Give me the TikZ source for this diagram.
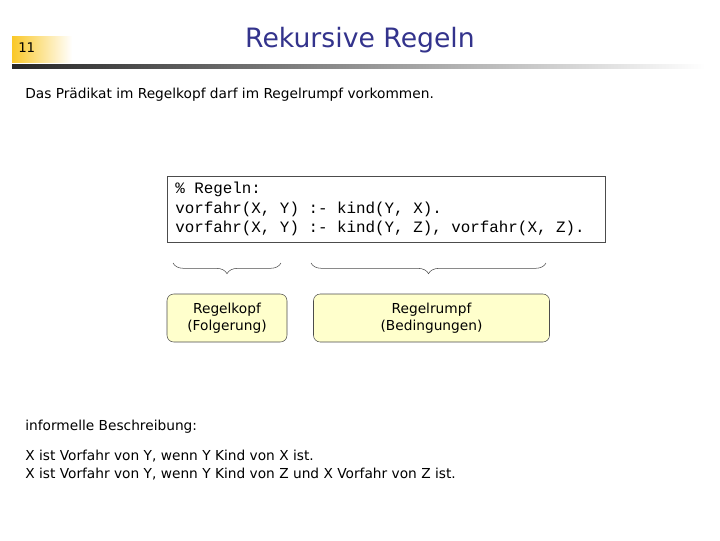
\documentclass[tikz,border=0pt]{standalone}
\usepackage{fontspec}
\setmainfont{DejaVu Sans}
\setmonofont{Liberation Mono}
\usetikzlibrary{decorations.pathreplacing}
\definecolor{titleblue}{RGB}{51,51,140}
\definecolor{boxyellow}{RGB}{255,255,204}
\definecolor{numgold}{RGB}{250,200,40}
\tikzset{
  plain/.style={anchor=west,inner sep=0pt,font=\fontsize{10.3}{13}\selectfont},
  part/.style={draw=black!70,rounded corners=5pt,fill=boxyellow,align=center,
    font=\fontsize{10.3}{13}\selectfont},
  brc/.style={decorate,decoration={brace,mirror,amplitude=8pt},black!70}
}
\begin{document}
\begin{tikzpicture}[x=0.75pt,y=-0.75pt]
\useasboundingbox (0,0) rectangle (720,540);
% header
\shade[left color=numgold,right color=white] (12,36) rectangle (72,62);
\node[plain,font=\fontsize{10}{12}\selectfont] (num) at (18,48) {11};
\node[font=\fontsize{20}{24}\selectfont,text=titleblue] (title) at (360,40) {Rekursive Regeln};
\shade[left color=black!85,right color=white] (12,64) rectangle (705,68);
\node[plain] (intro) at (25,95) {Das Prädikat im Regelkopf darf im Regelrumpf vorkommen.};
% program
\draw[black!70,fill=white] (167,176) rectangle (605,242);
\node[plain,align=left,font=\ttfamily\fontsize{11.9}{14.6}\selectfont] (code) at (175,209)
  {\% Regeln:\\vorfahr(X, Y) :- kind(Y, X).\\vorfahr(X, Y) :- kind(Y, Z), vorfahr(X, Z).};
% parts
\draw[brc] (173,263) -- (281,263);
\draw[brc] (311,263) -- (546,263);
\node[part,minimum width=90pt,minimum height=36pt] (kopf) at (227,318) {Regelkopf\\(Folgerung)};
\node[part,minimum width=177pt,minimum height=36pt] (rumpf) at (431.5,318) {Regelrumpf\\(Bedingungen)};
% description
\node[plain] (info) at (25,427) {informelle Beschreibung:};
\node[plain] (s1) at (25,456) {X ist Vorfahr von Y, wenn Y Kind von X ist.};
\node[plain] (s2) at (25,474) {X ist Vorfahr von Y, wenn Y Kind von Z und X Vorfahr von Z ist.};
\end{tikzpicture}
\end{document}
